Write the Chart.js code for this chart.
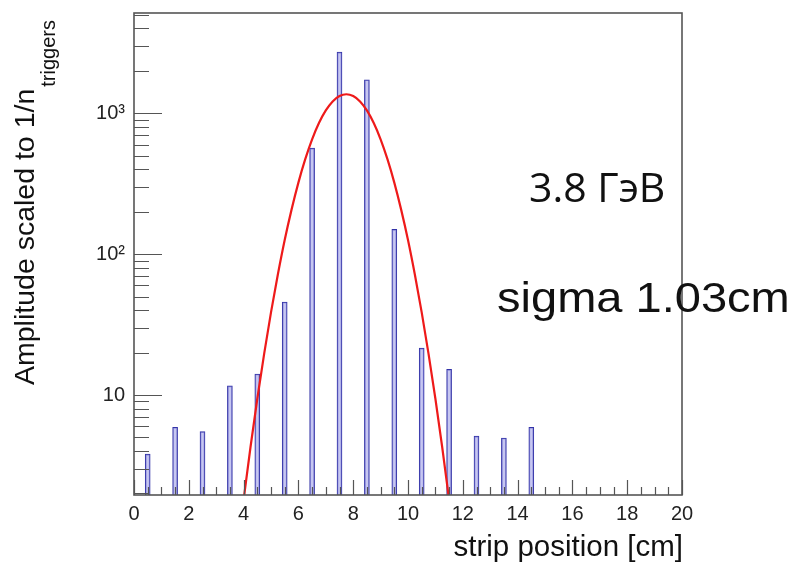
<!DOCTYPE html>
<html>
<head>
<meta charset="utf-8">
<script src="https://cdn.jsdelivr.net/npm/chart.js@4/dist/chart.umd.min.js"></script>
<style>
  html, body { margin: 0; padding: 0; background: #fff; }
</style>
</head>
<body>
<canvas id="grafica" width="800" height="566"></canvas>
<script>
// histograma: centro de cada tira y amplitud
const posiciones = [0.5, 1.5, 2.5, 3.5, 4.5, 5.5, 6.5, 7.5, 8.5, 9.5, 10.5, 11.5, 12.5, 13.5, 14.5];
const amplitudes = [3.8, 5.9, 5.5, 11.6, 14.1, 45.7, 565, 2720, 1730, 150, 21.5, 15.2, 5.1, 4.95, 5.9];

// curva roja del ajuste
const ajusteX = [4, 4.25, 4.5, 4.75, 5, 5.25, 5.5, 5.75, 6, 6.25, 6.5, 6.75, 7, 7.25, 7.5, 7.75,
                 8, 8.25, 8.5, 8.75, 9, 9.25, 9.5, 9.75, 10, 10.25, 10.5, 10.75, 11, 11.25, 11.5];
const ajusteY = [1.8, 4.24, 9.4, 19.6, 38.6, 71.7, 126, 207, 322, 472, 653, 852, 1047, 1213, 1325, 1365,
                 1325, 1213, 1047, 852, 653, 472, 322, 207, 126, 71.7, 38.6, 19.6, 9.4, 4.24, 1.8];

// ticks
const ticksY = [10, 100, 1000];
const etiquetasY = ['10', '10²', '10³'];
const menoresY = [2, 3, 4, 5, 6, 7, 8, 9, 20, 30, 40, 50, 60, 70, 80, 90,
                  200, 300, 400, 500, 600, 700, 800, 900, 2000, 3000, 4000, 5000];
const ticksX = [0, 2, 4, 6, 8, 10, 12, 14, 16, 18, 20];

// marco y ticks hacia dentro (estilo ROOT)
const marcoRoot = {
  id: 'marcoRoot',
  afterDatasetsDraw(chart) {
    const { ctx, chartArea: a, scales: { x, y } } = chart;
    ctx.save();
    ctx.strokeStyle = '#555';
    ctx.lineWidth = 1.2;
    ctx.beginPath();
    ticksY.forEach(v => {
      const py = Math.round(y.getPixelForValue(v)) + 0.5;
      ctx.moveTo(a.left, py); ctx.lineTo(a.left + 28, py);
    });
    menoresY.forEach(v => {
      const py = Math.round(y.getPixelForValue(v)) + 0.5;
      ctx.moveTo(a.left, py); ctx.lineTo(a.left + 15, py);
    });
    ticksX.forEach(v => {
      const px = Math.round(x.getPixelForValue(v)) + 0.5;
      ctx.moveTo(px, a.bottom); ctx.lineTo(px, a.bottom - 15);
    });
    for (let v = 0.5; v < 20; v += 0.5) {
      if (v % 2 === 0) continue;
      const px = Math.round(x.getPixelForValue(v)) + 0.5;
      ctx.moveTo(px, a.bottom); ctx.lineTo(px, a.bottom - 8);
    }
    ctx.stroke();
    ctx.lineWidth = 1.6;
    ctx.strokeRect(a.left, a.top, a.right - a.left, a.bottom - a.top);
    ctx.restore();
  },
  afterDraw(chart) {
    const { ctx } = chart;
    ctx.save();
    ctx.fillStyle = '#111';
    ctx.textBaseline = 'alphabetic';

    // titulo eje Y con subindice
    ctx.save();
    ctx.translate(34, 385);
    ctx.rotate(-Math.PI / 2);
    ctx.textAlign = 'left';
    ctx.font = '28.5px "Liberation Sans"';
    const principal = 'Amplitude scaled to 1/n';
    ctx.fillText(principal, 0, 0);
    const w = ctx.measureText(principal).width;
    ctx.font = '20px "Liberation Sans"';
    ctx.fillText('triggers', w + 2, 21);
    ctx.restore();

    // titulo eje X
    ctx.textAlign = 'right';
    ctx.font = '29.5px "Liberation Sans"';
    ctx.fillText('strip position [cm]', 683, 556);

    // anotaciones
    ctx.textAlign = 'left';
    ctx.font = '41px "Open Sans"';
    ctx.fillText('3.8 ГэВ', 529, 202);

    ctx.save();
    ctx.translate(497, 312);
    ctx.scale(1.12, 1);
    ctx.font = '42px "Liberation Sans"';
    ctx.fillText('sigma 1.03cm', 0, 0);
    ctx.restore();

    ctx.restore();
  }
};

new Chart(document.getElementById('grafica'), {
  type: 'bar',
  data: {
    datasets: [
      {
        type: 'line',
        data: ajusteX.map((v, i) => ({ x: v, y: ajusteY[i] })),
        borderColor: '#ee1a1a',
        borderWidth: 2.2,
        pointRadius: 0,
        cubicInterpolationMode: 'monotone',
        fill: false,
        order: 0
      },
      {
        type: 'bar',
        data: posiciones.map((v, i) => ({ x: v, y: amplitudes[i] })),
        backgroundColor: 'rgba(175, 175, 235, 0.7)',
        borderColor: '#3333a8',
        borderWidth: 1,
        barThickness: 5,
        order: 1
      }
    ]
  },
  options: {
    responsive: false,
    animation: false,
    layout: { padding: { left: 0, right: 118, top: 13, bottom: 0 } },
    plugins: {
      legend: { display: false },
      tooltip: { enabled: false }
    },
    scales: {
      x: {
        type: 'linear',
        min: 0,
        max: 20,
        offset: false,
        afterBuildTicks: s => { s.ticks = ticksX.map(v => ({ value: v })); },
        afterFit: s => { s.height = 71; s.paddingLeft = 0; s.paddingRight = 0; },
        grid: { display: false, drawTicks: false },
        border: { display: false },
        ticks: {
          padding: 7,
          maxRotation: 0,
          autoSkip: false,
          color: '#222',
          font: { family: 'Liberation Sans', size: 20 }
        }
      },
      y: {
        type: 'logarithmic',
        min: 1.95,
        max: 5150,
        afterBuildTicks: s => { s.ticks = ticksY.map(v => ({ value: v })); },
        afterFit: s => { s.width = 134; s.paddingTop = 0; s.paddingBottom = 0; },
        grid: { display: false, drawTicks: false },
        border: { display: false },
        ticks: {
          padding: 9,
          color: '#222',
          font: { family: 'Liberation Sans', size: 20 },
          callback: (v, i) => etiquetasY[i]
        }
      }
    }
  },
  plugins: [marcoRoot]
});
</script>
</body>
</html>
